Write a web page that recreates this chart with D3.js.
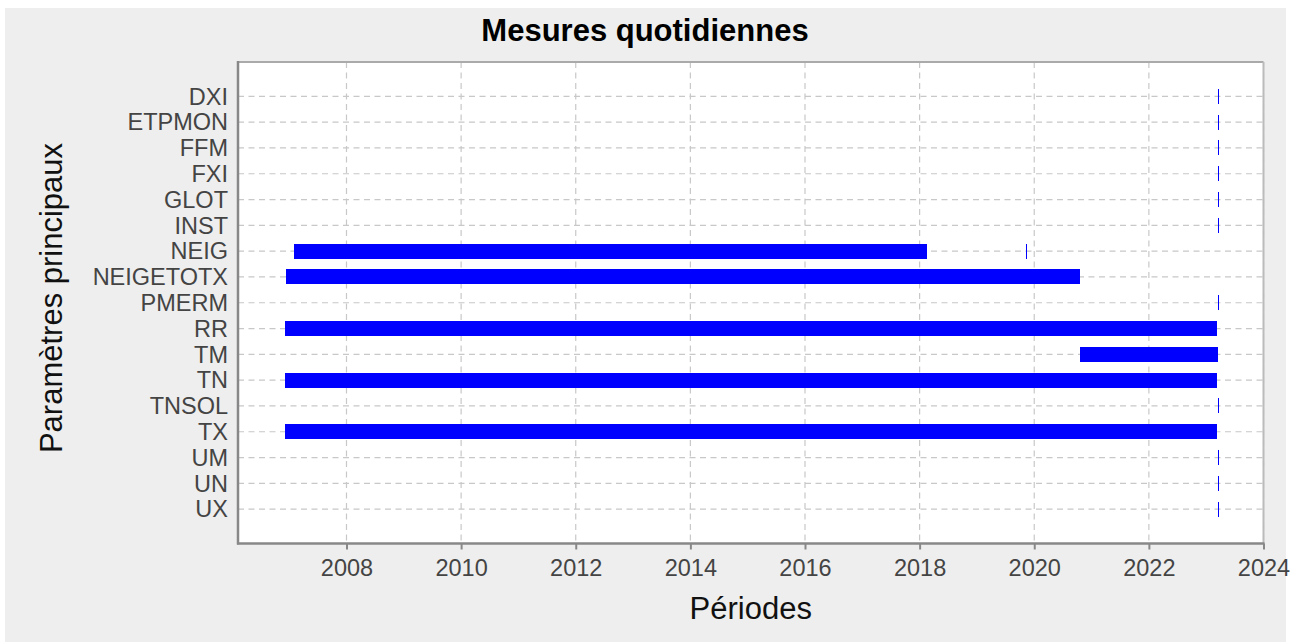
<!DOCTYPE html>
<html>
<head>
<meta charset="utf-8">
<script src="https://cdn.jsdelivr.net/npm/d3@7"></script>
<style>
  body { margin: 0; background: #fff; }
  svg { display: block; font-family: "Liberation Sans", Arial, sans-serif; }
  .grid line { stroke: #c8c8c8; stroke-width: 1.2; stroke-dasharray: 6,4.5; }
  .tick text { fill: #444; font-size: 23.5px; }
</style>
</head>
<body>
<svg id="chart" width="1298" height="642"></svg>
<script>
// Parameters (y axis) and measured periods (x axis, in decimal years)
const categories = ["DXI", "ETPMON", "FFM", "FXI", "GLOT", "INST", "NEIG", "NEIGETOTX",
  "PMERM", "RR", "TM", "TN", "TNSOL", "TX", "UM", "UN", "UX"];
const barParam = ["DXI", "ETPMON", "FFM", "FXI", "GLOT", "INST", "NEIG", "NEIG", "NEIGETOTX",
  "PMERM", "RR", "TM", "TN", "TNSOL", "TX", "UM", "UN", "UX"];
const barStart = [2023.20, 2023.20, 2023.20, 2023.20, 2023.20, 2023.20, 2007.08, 2019.86, 2006.94,
  2023.20, 2006.93, 2020.80, 2006.93, 2023.20, 2006.93, 2023.20, 2023.20, 2023.20];
const barEnd = [2023.20, 2023.20, 2023.20, 2023.20, 2023.20, 2023.20, 2018.13, 2019.86, 2020.80,
  2023.20, 2023.19, 2023.21, 2023.19, 2023.20, 2023.19, 2023.20, 2023.20, 2023.20];
const xTicks = [2008, 2010, 2012, 2014, 2016, 2018, 2020, 2022, 2024];

const title = "Mesures quotidiennes";
const xTitle = "Périodes";
const yTitle = "Paramètres principaux";

const margin = { left: 238, right: 34.5, top: 62, bottom: 98.5 };
const width = 1298, height = 642;
const drawWidth = width - margin.left - margin.right;
const drawHeight = height - margin.top - margin.bottom;

const svg = d3.select("#chart");

// background panel
svg.append("rect").attr("x", 5).attr("y", 8).attr("width", 1281).attr("height", 634).attr("fill", "#eeeeee");

const g = svg.append("g").attr("transform", `translate(${margin.left},${margin.top})`);
g.append("rect").attr("width", drawWidth).attr("height", drawHeight).attr("fill", "#fff");

// Scales
const xScale = d3.scaleLinear().domain([2006.107, 2024]).range([0, drawWidth]);
const yScale = d3.scalePoint().domain(categories).range([0, drawHeight]).padding(1.33);

// Grid lines
g.append("g").attr("class", "grid")
  .selectAll("line").data(xTicks).join("line")
  .attr("x1", d => xScale(d)).attr("x2", d => xScale(d))
  .attr("y1", 0).attr("y2", drawHeight);
g.append("g").attr("class", "grid")
  .selectAll("line").data(categories).join("line")
  .attr("x1", 0).attr("x2", drawWidth)
  .attr("y1", d => yScale(d)).attr("y2", d => yScale(d));

// Bars (single-day periods drawn as 1px marks)
const barH = 15;
g.append("g").attr("shape-rendering", "crispEdges")
  .selectAll("rect").data(barParam).join("rect")
  .attr("fill", "#0000ff")
  .attr("x", (d, i) => barEnd[i] - barStart[i] < 0.05 ? Math.round(xScale(barStart[i])) : xScale(barStart[i]))
  .attr("width", (d, i) => Math.max(1, xScale(barEnd[i]) - xScale(barStart[i])))
  .attr("y", d => Math.round(yScale(d) - barH / 2))
  .attr("height", barH);

// Frame: top and right lighter, left and bottom axis lines darker
g.append("line").attr("x1", 0).attr("x2", drawWidth).attr("y1", 0).attr("y2", 0)
  .attr("stroke", "#aaa").attr("stroke-width", 2);
g.append("line").attr("x1", drawWidth).attr("x2", drawWidth).attr("y1", 0).attr("y2", drawHeight)
  .attr("stroke", "#bbb").attr("stroke-width", 2);

// Axes
const xAxis = g.append("g").attr("transform", `translate(0,${drawHeight})`)
  .call(d3.axisBottom(xScale).tickValues(xTicks).tickFormat(d3.format("d")).tickSize(6).tickPadding(10));
xAxis.select(".domain").remove();
xAxis.selectAll(".tick line").attr("stroke", "#888").attr("stroke-width", 2);

const yAxis = g.append("g")
  .call(d3.axisLeft(yScale).tickSize(0).tickPadding(10));
yAxis.select(".domain").remove();
yAxis.selectAll(".tick text").attr("dy", "0.33em");

g.append("line").attr("x1", 0).attr("x2", 0).attr("y1", -1).attr("y2", drawHeight + 1)
  .attr("stroke", "#888").attr("stroke-width", 2.5);
g.append("line").attr("x1", -1).attr("x2", drawWidth + 1).attr("y1", drawHeight).attr("y2", drawHeight)
  .attr("stroke", "#888").attr("stroke-width", 2.5);

// Titles
svg.append("text").attr("x", 645).attr("y", 41).attr("text-anchor", "middle")
  .attr("font-size", 31).attr("font-weight", "bold").attr("fill", "#000").text(title);
svg.append("text").attr("x", margin.left + drawWidth / 2).attr("y", 619).attr("text-anchor", "middle")
  .attr("font-size", 31).attr("fill", "#111").text(xTitle);
svg.append("text").attr("transform", "translate(62,298) rotate(-90)").attr("text-anchor", "middle")
  .attr("font-size", 31).attr("fill", "#111").text(yTitle);
</script>
</body>
</html>
